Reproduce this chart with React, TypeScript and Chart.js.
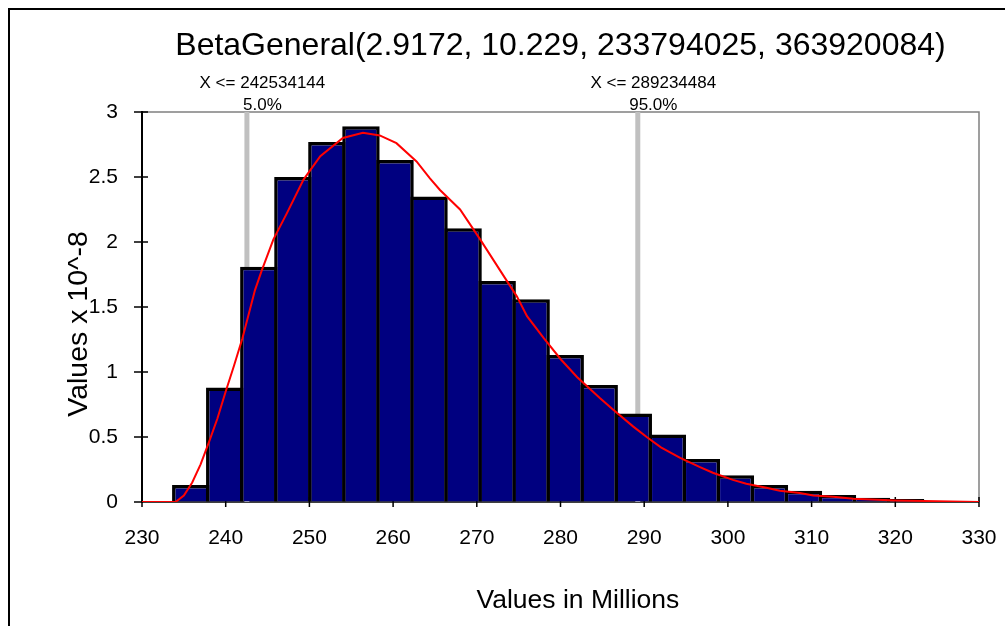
import React, { useEffect, useRef } from 'react';
import { Chart, registerables } from 'chart.js';

Chart.register(...registerables);

const FONT = '"Liberation Sans", Arial, sans-serif';

const titleText = 'BetaGeneral(2.9172, 10.229, 233794025, 363920084)';
const xAxisTitle = 'Values in Millions';
const yAxisTitle = 'Values x 10^-8';

// histogram bins (centres, in millions) and heights (x 10^-8)
const binCenters = [
  235.83, 239.89, 243.96, 248.03, 252.09, 256.16, 260.23, 264.29, 268.36, 272.43, 276.49,
  280.56, 284.62, 288.69, 292.76, 296.82, 300.89, 304.96, 309.02, 313.09, 317.16, 321.22,
];
const binHeights = [
  0.13, 0.88, 1.81, 2.5, 2.77, 2.89, 2.63, 2.35, 2.105, 1.7, 1.56,
  1.13, 0.9, 0.68, 0.52, 0.33, 0.205, 0.13, 0.087, 0.054, 0.033, 0.023,
];

// fitted density curve
const curveX = [
  230, 234, 235, 236, 237, 238, 239, 240, 241, 242, 243.5, 244.3, 245.7, 247.3, 249.3, 251.3,
  254, 256.4, 258.4, 260.4, 262.8, 264.4, 265.6, 268, 270.4, 272.8, 274.8, 276, 278, 280, 282,
  284.7, 286.3, 288.7, 290.3, 292, 294.3, 296.6, 298.2, 300.6, 302.2, 304.6, 306.2, 308.6,
  310.2, 312.6, 315, 320, 325, 330,
];
const curveY = [
  0, 0, 0.05, 0.15, 0.29, 0.46, 0.64, 0.85, 1.05, 1.26, 1.63, 1.78, 2.02, 2.22, 2.48, 2.66,
  2.8, 2.84, 2.82, 2.76, 2.62, 2.49, 2.4, 2.25, 2.02, 1.78, 1.58, 1.43, 1.26, 1.1, 0.96,
  0.8, 0.71, 0.58, 0.5, 0.42, 0.34, 0.27, 0.225, 0.17, 0.14, 0.11, 0.087, 0.07,
  0.05, 0.04, 0.025, 0.012, 0.006, 0,
];

// percentile markers
const pctValues = [242.534144, 289.234484];
const pctLabels = ['X <= 242534144', 'X <= 289234484'];
const pctProbs = ['5.0%', '95.0%'];

const xTickValues = [230, 240, 250, 260, 270, 280, 290, 300, 310, 320, 330];
const xTickLabels = ['230', '240', '250', '260', '270', '280', '290', '300', '310', '320', '330'];
const yTickValues = [0, 0.5, 1, 1.5, 2, 2.5, 3];
const yTickLabels = ['0', '0.5', '1', '1.5', '2', '2.5', '3'];

const decorPlugin = {
  id: 'excelDecor',
  beforeDatasetsDraw(chart: any) {
    const { ctx, chartArea: a, scales } = chart;
    const xs = scales.x;
    const ys = scales.y;
    ctx.save();
    // plot frame (top + right) in grey
    ctx.strokeStyle = '#808080';
    ctx.lineWidth = 1.5;
    ctx.beginPath();
    ctx.moveTo(a.left, a.top);
    ctx.lineTo(a.right, a.top);
    ctx.lineTo(a.right, a.bottom);
    ctx.stroke();
    // axes
    ctx.strokeStyle = '#000000';
    ctx.lineWidth = 2;
    ctx.beginPath();
    ctx.moveTo(a.left, a.top - 1);
    ctx.lineTo(a.left, a.bottom + 1);
    ctx.stroke();
    ctx.lineWidth = 1.5;
    ctx.beginPath();
    ctx.moveTo(a.left, a.bottom);
    ctx.lineTo(a.right, a.bottom);
    yTickValues.forEach((v) => {
      const py = ys.getPixelForValue(v);
      ctx.moveTo(a.left - 8, py);
      ctx.lineTo(a.left + 6, py);
    });
    xTickValues.forEach((v) => {
      const px = xs.getPixelForValue(v);
      ctx.moveTo(px, a.bottom - 5);
      ctx.lineTo(px, a.bottom + 5);
    });
    ctx.stroke();
    ctx.restore();
  },
  afterDraw(chart: any) {
    const { ctx, chartArea: a, scales } = chart;
    const xs = scales.x;
    const cx = (a.left + a.right) / 2;
    const cy = (a.top + a.bottom) / 2;
    ctx.save();
    ctx.fillStyle = '#000000';
    ctx.textBaseline = 'alphabetic';
    ctx.textAlign = 'center';
    ctx.font = `32px ${FONT}`;
    ctx.fillText(titleText, cx, a.top - 57);

    ctx.font = `17px ${FONT}`;
    pctValues.forEach((v, i) => {
      const px = xs.getPixelForValue(v) + 15.5;
      ctx.fillText(pctLabels[i], px, a.top - 23.7);
      ctx.fillText(pctProbs[i], px, a.top - 2.5);
    });

    ctx.font = `26.5px ${FONT}`;
    ctx.fillText(xAxisTitle, cx + 17.4, a.bottom + 106.3);

    ctx.translate(a.left - 55, cy + 17);
    ctx.rotate(-Math.PI / 2);
    ctx.font = `28.5px ${FONT}`;
    ctx.fillText(yAxisTitle, 0, 0);
    ctx.restore();
  },
};

export default function App() {
  const ref = useRef<HTMLCanvasElement>(null);

  useEffect(() => {
    if (!ref.current) return;
    const chart = new Chart(ref.current, {
      type: 'bar',
      data: {
        datasets: [
          {
            type: 'line',
            label: 'Fit',
            data: curveX.map((x, i) => ({ x, y: curveY[i] })),
            borderColor: '#FF0000',
            borderWidth: 2,
            pointRadius: 0,
            tension: 0,
            fill: false,
            order: 0,
          } as any,
          {
            type: 'bar',
            label: 'Histogram',
            data: binCenters.map((x, i) => ({ x, y: binHeights[i] })),
            backgroundColor: '#000080',
            borderColor: '#000000',
            borderWidth: 3.5,
            borderSkipped: 'start',
            barPercentage: 1.103,
            categoryPercentage: 1,
            inflateAmount: 0,
            order: 1,
          } as any,
          ...pctValues.map(
            (v, i) =>
              ({
                type: 'line',
                label: pctProbs[i],
                data: [
                  { x: v, y: 0 },
                  { x: v, y: 3 },
                ],
                borderColor: '#C0C0C0',
                borderWidth: 5,
                pointRadius: 0,
                fill: false,
                order: 2,
              }) as any
          ),
        ],
      },
      options: {
        animation: false,
        responsive: false,
        devicePixelRatio: 1,
        layout: { padding: { top: 102, right: 26, bottom: 0, left: 0 } },
        plugins: {
          legend: { display: false },
          title: { display: false },
          tooltip: { enabled: false },
        },
        scales: {
          x: {
            type: 'linear',
            min: 230,
            max: 330,
            offset: false,
            grid: {
              display: true,
              drawOnChartArea: false,
              drawTicks: true,
              tickLength: 24,
              color: 'rgba(0,0,0,0)',
              offset: false,
            },
            border: { display: false },
            afterBuildTicks: (s: any) => {
              s.ticks = xTickValues.map((v) => ({ value: v }));
            },
            afterFit: (s: any) => {
              s.height = 124;
            },
            ticks: {
              autoSkip: false,
              maxRotation: 0,
              padding: 0,
              color: '#000000',
              font: { family: FONT, size: 21 },
              callback: (_v: any, i: number) => xTickLabels[i],
            },
          },
          y: {
            type: 'linear',
            min: 0,
            max: 3,
            grid: {
              display: true,
              drawOnChartArea: false,
              drawTicks: true,
              tickLength: 24,
              color: 'rgba(0,0,0,0)',
            },
            border: { display: false },
            afterBuildTicks: (s: any) => {
              s.ticks = yTickValues.map((v) => ({ value: v }));
            },
            afterFit: (s: any) => {
              s.width = 132;
            },
            ticks: {
              padding: 0,
              color: '#000000',
              font: { family: FONT, size: 21 },
              callback: (_v: any, i: number) => yTickLabels[i],
            },
          },
        },
      } as any,
      plugins: [decorPlugin],
    });
    return () => chart.destroy();
  }, []);

  return (
    <div
      style={{
        position: 'fixed',
        left: 8,
        top: 8,
        width: 997,
        height: 618,
        borderTop: '2px solid #000',
        borderLeft: '2px solid #000',
        boxSizing: 'border-box',
        background: '#fff',
      }}
    >
      <canvas ref={ref} width={995} height={616} style={{ display: 'block', width: 995, height: 616 }} />
    </div>
  );
}
